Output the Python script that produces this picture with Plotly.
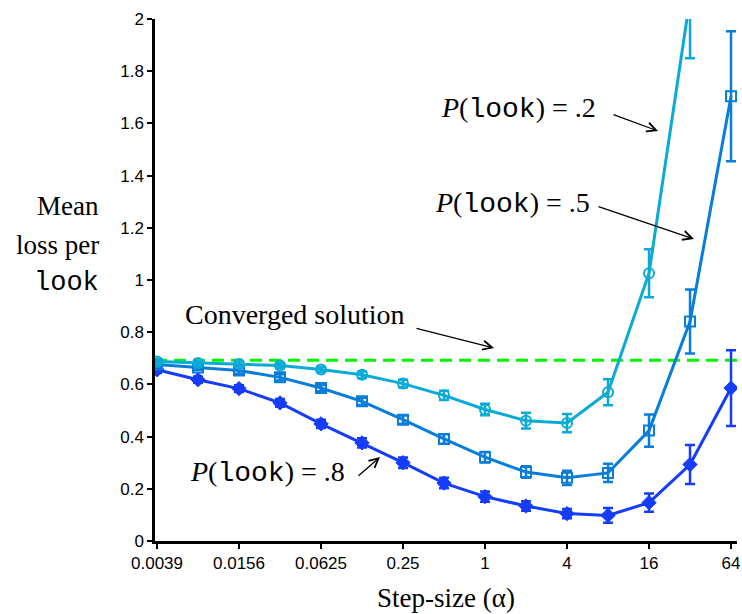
import plotly.graph_objects as go

# ---- data ----
step_sizes = [0.00390625, 0.0078125, 0.015625, 0.03125, 0.0625, 0.125, 0.25, 0.5,
              1, 2, 4, 8, 16, 32, 64]

loss_p2 = [0.688, 0.682, 0.678, 0.672, 0.657, 0.637, 0.603, 0.558,
           0.504, 0.461, 0.452, 0.570, 1.026, 2.08, None]
err_p2 = [0.010, 0.010, 0.010, 0.010, 0.010, 0.012, 0.015, 0.018,
          0.022, 0.030, 0.035, 0.050, 0.092, 0.23, None]

loss_p5 = [0.676, 0.665, 0.653, 0.627, 0.586, 0.535, 0.465, 0.391,
           0.321, 0.264, 0.242, 0.261, 0.423, 0.841, 1.704]
err_p5 = [0.010, 0.010, 0.012, 0.012, 0.012, 0.014, 0.016, 0.018,
          0.020, 0.022, 0.027, 0.035, 0.062, 0.123, 0.249]

loss_p8 = [0.656, 0.618, 0.584, 0.529, 0.449, 0.376, 0.300, 0.222,
           0.170, 0.134, 0.105, 0.098, 0.147, 0.293, 0.586]
err_p8 = [0.012, 0.012, 0.013, 0.015, 0.016, 0.018, 0.020, 0.020,
          0.020, 0.018, 0.018, 0.028, 0.035, 0.075, 0.145]

converged_loss = 0.693

x_tickvals = [0.00390625, 0.015625, 0.0625, 0.25, 1, 4, 16, 64]
x_ticktext = ["0.0039", "0.0156", "0.0625", "0.25", "1", "4", "16", "64"]
y_tickvals = [0, 0.2, 0.4, 0.6, 0.8, 1, 1.2, 1.4, 1.6, 1.8, 2]
y_ticktext = ["0", "0.2", "0.4", "0.6", "0.8", "1", "1.2", "1.4", "1.6", "1.8", "2"]

# ---- styles ----
C2 = "rgb(10,170,215)"
C5 = "rgb(8,125,218)"
C8 = "rgb(20,60,250)"
SERIF = "Liberation Serif, Times New Roman, serif"
MONO = "Liberation Mono, Courier New, monospace"
SANS = "Liberation Sans, Arial, sans-serif"
FS = 28

fig = go.Figure()


def add_series(y, err, color, symbol, size, lw_marker):
    fig.add_trace(go.Scatter(
        x=step_sizes, y=y, mode="lines+markers",
        line=dict(color=color, width=3),
        marker=dict(symbol=symbol, size=size, color=color,
                    line=dict(color=color, width=lw_marker)),
        error_y=dict(type="data", array=err, visible=True, color=color,
                     thickness=2.5, width=5),
        showlegend=False,
    ))


add_series(loss_p8, err_p8, C8, "diamond", 11, 1)
add_series(loss_p5, err_p5, C5, "square-open", 10, 2)
add_series(loss_p2, err_p2, C2, "circle-open", 10, 2)

fig.add_shape(type="line", xref="paper", yref="y", x0=0, x1=1,
              y0=converged_loss, y1=converged_loss,
              line=dict(color="rgb(0,245,0)", width=3, dash="12px,7px"),
              layer="below")

# plot area in screenshot pixels (body margin removed by post_script)
W, H = 742, 614
L, R, T, B = 155, 737, 19, 541


def px(x):
    return (x - L) / (R - L)


def py(y):
    return (B - y) / (B - T)


def label(x, y, text, anchor="center", family=SERIF, size=FS):
    fig.add_annotation(xref="paper", yref="paper", x=px(x), y=py(y), text=text,
                       showarrow=False, xanchor=anchor, yanchor="middle",
                       font=dict(family=family, size=size, color="black"))


def arrow(x0, y0, x1, y1):
    fig.add_annotation(xref="paper", yref="paper", x=px(x1), y=py(y1),
                       ax=x0 - x1, ay=y0 - y1, axref="pixel", ayref="pixel",
                       text="", showarrow=True, arrowhead=5, arrowsize=1.4,
                       arrowwidth=1.3, arrowcolor="black", standoff=0)


def plook(v):
    return ("<i>P</i>(<span style='font-family:" + MONO + "'>look</span>) = " + v)


label(295, 314, "Converged solution")
arrow(415, 328, 494, 348)
label(518, 108, plook(".2"))
arrow(612, 114, 658, 131)
label(512, 203, plook(".5"))
arrow(597, 206, 694, 239)
label(267, 472, plook(".8"))
arrow(357, 477, 380, 457)

# y-axis title (three lines, right aligned)
label(101, 206, "Mean", anchor="right", size=27)
label(101, 245, "loss per", anchor="right", size=27)
label(101, 283, "look", anchor="right", family=MONO, size=27)

fig.update_layout(
    width=W, height=H,
    margin=dict(l=L, r=W - R, t=T, b=H - B),
    paper_bgcolor="white", plot_bgcolor="white",
    hovermode=False,
    xaxis=dict(type="log", range=[-2.423, 1.850], automargin=False,
               tickvals=x_tickvals, ticktext=x_ticktext,
               showgrid=False, zeroline=False,
               showline=True, linecolor="black", linewidth=2.5,
               ticks="outside", ticklen=5, tickwidth=2, tickcolor="black",
               ticklabeloverflow="allow",
               tickfont=dict(family=SANS, size=17, color="black"),
               title=dict(text="Step-size (α)", standoff=16,
                          font=dict(family=SERIF, size=27, color="black"))),
    yaxis=dict(range=[0, 2], automargin=False,
               tickvals=y_tickvals, ticktext=y_ticktext,
               showgrid=False, zeroline=False,
               showline=True, linecolor="black", linewidth=2.5,
               ticks="outside", ticklen=5, tickwidth=2, tickcolor="black",
               tickfont=dict(family=SANS, size=17, color="black")),
)

fig.write_html(
    "out.html",
    config={"displayModeBar": False},
    post_script="document.body.style.margin='0';document.body.style.overflow='hidden';",
)
